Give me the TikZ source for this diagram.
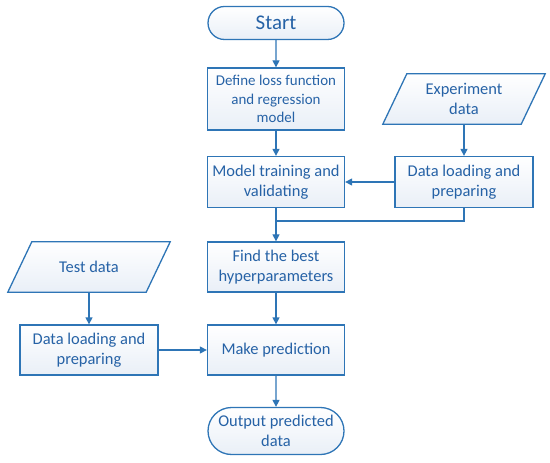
\documentclass[tikz,border=0pt]{standalone}
\usepackage{fontspec}
\setmainfont{Carlito}
\usepackage{xcolor}
\usepackage{tikz}
\usetikzlibrary{
  arrows.meta,
  positioning,
  shapes.misc,
  backgrounds,
  calc
}
\definecolor{flowline}{RGB}{46,117,182}
\definecolor{flowtext}{RGB}{38,98,166}
\definecolor{flowfill}{RGB}{233,239,247}

\begin{document}
\begin{tikzpicture}[x=1bp,y=-1bp,
  every node/.style={text=flowtext,font=\fontsize{16.5}{20}\selectfont},
  procbox/.style={draw=flowline,line width=1.3bp,top color=white,bottom color=flowfill,
    align=center,minimum width=137bp,minimum height=50bp,inner sep=1bp},
  termbox/.style={draw=flowline,line width=1.3bp,rounded rectangle,top color=white,
    bottom color=flowfill,align=center,minimum width=138bp,inner sep=1bp},
  iobox/.style={align=center,minimum width=138bp,minimum height=50bp,inner sep=1bp},
  flow/.style={draw=flowline,line width=1.3bp,-{Triangle[length=7bp,width=7bp]}},
  mergeline/.style={draw=flowline,line width=1.3bp}
]
  \useasboundingbox (0,0) rectangle (550,463);

  % Main column
  \node[termbox,minimum height=33bp,font=\fontsize{21}{24}\selectfont] (start) at (276,23) {Start};
  \node[procbox,minimum height=62bp,font=\fontsize{15}{18.5}\selectfont] (define) at (276,99) {Define loss function\\and regression\\model};
  \node[procbox,minimum height=51bp] (train) at (276,182) {Model training and\\validating};
  \node[procbox] (best) at (276,267) {Find the best\\hyperparameters};
  \node[procbox] (predict) at (276,350) {Make prediction};
  \node[termbox,minimum height=47bp] (output) at (276,431) {Output predicted\\data};

  % Experiment data branch
  \node[iobox] (expdata) at (464,99) {Experiment\\data};
  \node[procbox,minimum height=51bp,minimum width=138bp] (expprep) at (464,182) {Data loading and\\preparing};

  % Test data branch
  \node[iobox] (testdata) at (89,267) {Test data};
  \node[procbox,minimum width=138bp] (testprep) at (89,350) {Data loading and\\preparing};

  % Slanted outlines of the data nodes
  \begin{scope}[on background layer]
    \foreach \n in {expdata,testdata}{
      \draw[flowline,line width=1.3bp,line join=miter,top color=white,bottom color=flowfill]
        ($(\n.south west)+(-12,0)$) -- ($(\n.north west)+(12,0)$) --
        ($(\n.north east)+(12,0)$) -- ($(\n.south east)+(-12,0)$) -- cycle;
    }
  \end{scope}

  % Connectors
  \draw[flow] (start) -- (define);
  \draw[flow] (define) -- (train);
  \draw[flow] (expdata) -- (expprep);
  \draw[flow] (expprep) -- (train);
  \coordinate (merge) at ($(train.south)+(0,13)$);
  \draw[mergeline] (expprep.south) |- (merge);
  \draw[flow] (train) -- (best);
  \draw[flow] (best) -- (predict);
  \draw[flow] (testdata) -- (testprep);
  \draw[flow] (testprep) -- (predict);
  \draw[flow] (predict) -- (output);
\end{tikzpicture}
\end{document}
